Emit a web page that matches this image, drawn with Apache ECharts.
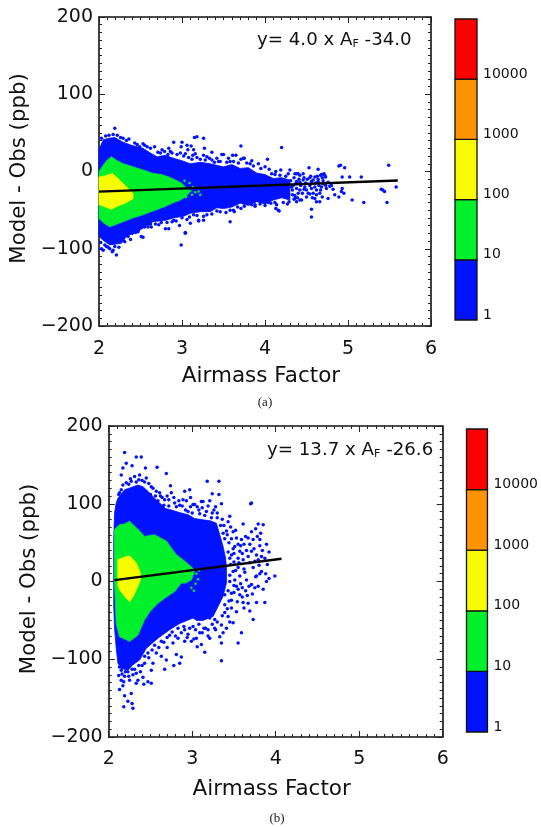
<!DOCTYPE html>
<html><head><meta charset="utf-8">
<style>html,body{margin:0;padding:0;background:#fff}#c{width:541px;height:827px}</style>
<script src="https://cdn.jsdelivr.net/npm/echarts@6/dist/echarts.min.js"></script>
</head><body><div id="c"></div>
<script>
var binEdges=[1,10,100,1000,10000,100000];
var binColors=['#0012ff','#00f02c','#f8fc00','#ff9400','#ff0000'];
var binLabels=['1','10','100','1000','10000'];
var xTicks=[2,3,4,5,6];
var yTicks=[-200,-100,0,100,200];

// Panel (a)
var aLine=[[2,-26],[5.6,-11.6]];
var aBlue=[[2.00,10],[2.00,28],[2.05,41],[2.12,43],[2.19,44],[2.29,38],[2.39,34],[2.53,30],[2.62,24],[2.70,19],[2.80,21],[2.90,17],[3.00,14],[3.10,10],[3.22,12],[3.34,10],[3.42,8],[3.50,6],[3.60,9],[3.70,4],[3.80,5],[3.90,-2],[4.00,-4],[4.10,-9],[4.20,-8],[4.30,-11],[4.30,-37],[4.20,-34],[4.10,-37],[4.00,-42],[3.90,-39],[3.80,-44],[3.70,-41],[3.60,-46],[3.50,-48],[3.42,-47],[3.34,-52],[3.22,-52],[3.10,-54],[3.02,-58],[2.90,-60],[2.81,-63],[2.65,-65],[2.49,-76],[2.33,-84],[2.27,-93],[2.13,-95],[2.05,-89],[2.00,-84]];
var aGreen=[[2.0,0],[2.05,8],[2.10,15],[2.15,19],[2.22,14],[2.29,10],[2.38,7],[2.47,4],[2.56,1],[2.65,-2.5],[2.75,-4],[2.84,-7],[2.92,-11],[3.0,-15.5],[3.05,-21],[3.1,-26],[3.04,-33],[2.98,-37],[2.88,-41],[2.78,-46],[2.65,-51],[2.53,-56],[2.41,-60],[2.29,-65],[2.13,-71.5],[2.06,-67],[2.0,-61]];
var aYellow=[[2.0,-7],[2.06,-6],[2.12,-4],[2.16,-2.5],[2.22,-8],[2.29,-15.5],[2.35,-22],[2.41,-28.5],[2.41,-35],[2.35,-39],[2.29,-42],[2.22,-45],[2.15,-49],[2.08,-46],[2.0,-43]];
var aGreenSpecks=[[3.03,-12],[3.07,-22],[3.10,-25],[3.12,-30],[3.16,-27],[3.20,-26],[3.22,-30],[3.13,-20],[3.09,-15],[3.05,-33]];
var aSpecks=[[2.19,56],[3.15,44],[3.26,43],[2.99,32],[3.11,33],[3.71,33],[4.20,31],[4.89,7],[4.96,5],[5.49,8],[5.16,-7],[5.02,-7],[5.40,-23],[5.58,-20],[5.44,-26],[5.42,-24],[5.47,-40],[5.19,-40],[5.05,-37],[4.93,-22],[4.92,-26],[4.89,-33],[4.95,-28],[4.82,-23],[4.76,-35],[4.78,-19],[4.93,-7],[4.91,8],[2.99,-95],[3.04,-79],[3.26,-63],[3.58,-65],[2.53,-85],[2.21,-108],[2.05,-102],[2.16,-104],[2.80,-74],[2.63,-72],[2.47,-78],[2.88,-65],[3.09,-59],[3.21,-50],[3.42,-51],[3.63,-52],[3.71,-48],[3.88,-45],[4.00,-44],[4.13,-48],[4.17,-51],[4.29,-39],[4.42,-37],[4.62,-39],[4.69,-33],[4.73,-7],[4.71,-3],[4.67,-5],[4.60,-7],[4.54,-8],[4.46,-3],[4.38,-3],[4.36,-3],[4.42,-5],[4.64,-10],[4.68,-4],[4.34,-18],[4.42,-24],[4.36,-31],[4.44,-37],[4.50,-24],[4.60,-35],[4.66,-39],[4.62,-24],[4.68,-20],[4.54,-18],[4.53,5],[4.64,3],[4.56,-49],[4.56,-59],[4.33,-24],[4.42,-14],[4.48,-20],[4.54,-29],[4.60,-20],[4.67,-24],[4.73,-18],[4.64,-13],[4.56,-13],[4.46,-11],[4.38,-13],[4.50,-33],[4.35,-8],[4.58,-28],[4.40,-28],[4.70,-12],[2.55,34],[2.49,32],[2.76,28],[2.84,30],[3.07,28],[3.13,21],[3.30,19],[3.36,15],[3.48,22],[3.61,21],[3.75,17],[3.82,10],[4.00,6],[4.13,0],[3.27,30],[3.16,23],[3.26,21],[3.36,25],[3.50,22],[3.65,21],[3.84,14],[3.92,10],[4.03,16],[4.19,2],[4.30,2],[4.40,-3],[3.74,17],[3.58,13],[3.44,13],[2.17,48],[2.29,43],[2.67,32],[2.53,36],[2.90,38],[3.00,38],[3.06,34],[3.14,28],[3.18,45],[2.86,26],[3.04,23],[2.09,-97],[2.13,-100],[2.17,-102],[2.03,-100],[2.31,-91],[2.51,-84],[2.47,-76],[2.59,-72],[2.84,-74],[2.90,-63],[3.04,-80],[3.10,-67],[3.20,-64],[3.20,-63],[3.26,-58],[3.62,-50],[3.88,-43],[4.16,-50],[4.38,-39],[4.14,-43],[4.04,-40],[4.36,-35],[2.42,-75],[2.38,-88],[2.62,-68],[2.72,-69],[2.97,-70],
[2.03,43],[2.08,46],[2.12,47],[2.22,47],[2.26,44],[2.33,40],[2.36,42],[2.43,37],[2.46,35],[2.58,32],[2.62,30],[2.71,25],[2.74,24],[2.79,26],[2.83,22],[2.88,24],[2.94,22],[2.98,24],[3.02,20],[3.08,18],[3.12,16],[3.18,18],[3.22,16],[3.28,15],[3.33,17],[3.39,12],[3.42,17],[3.46,13],[3.54,12],[3.56,17],[3.62,13],[3.68,11],[3.71,16],[3.78,11],[3.86,7],[3.95,4],[4.05,3],[4.08,-3],[4.12,-4],[4.18,-5],[4.25,-6],[4.28,-3],
[2.02,-92],[2.07,-95],[2.11,-98],[2.19,-97],[2.24,-98],[2.29,-89],[2.35,-84],[2.40,-80],[2.44,-79],[2.55,-72],[2.60,-68],[2.68,-68],[2.75,-66],[2.82,-66],[2.93,-64],[3.00,-60],[3.06,-62],[3.14,-56],[3.18,-57],[3.30,-56],[3.36,-55],[3.46,-52],[3.53,-53],[3.58,-50],[3.67,-46],[3.75,-45],[3.84,-43],[3.94,-42],[4.07,-41],[4.12,-40],[4.22,-40],[4.27,-42],
[4.31,-12],[4.32,-20],[4.33,-30],[4.35,-36],[4.37,-16],[4.38,-22],[4.39,-34],[4.41,-10],[4.43,-18],[4.45,-28],[4.47,-8],[4.47,-23],[4.49,-15],[4.51,-10],[4.52,-28],[4.55,-6],[4.56,-22],[4.57,-34],[4.58,-11],[4.61,-15],[4.62,-30],[4.63,-6],[4.65,-18],[4.66,-28],[4.69,-8],[4.70,-16],[4.72,-5],[4.74,-22],[4.76,-14],[4.80,-18],[4.84,-30]];

// Panel (b)
var bLine=[[2.07,1.8],[4.07,29.2]];
var bBlue=[[2.06,0],[2.06,54],[2.07,88],[2.09,101],[2.11,107],[2.19,118],[2.27,121],[2.35,124],[2.41,122],[2.47,116],[2.54,108],[2.61,101],[2.68,94],[2.75,92],[2.87,88],[2.95,86],[3.03,81],[3.15,79],[3.22,78],[3.29,75],[3.33,60],[3.37,45],[3.40,30],[3.41,19],[3.41,-2],[3.37,-19],[3.31,-32],[3.25,-45],[3.13,-50],[3.05,-50],[3.01,-47],[2.85,-54],[2.73,-62],[2.59,-73],[2.45,-86],[2.37,-101],[2.29,-107],[2.23,-114],[2.15,-112],[2.11,-105],[2.09,-86],[2.07,-60],[2.06,-30]];
var bGreen=[[2.07,41],[2.07,67],[2.13,73],[2.19,74],[2.25,77.5],[2.31,71],[2.37,65],[2.43,58],[2.55,60],[2.62,56],[2.69,52],[2.75,43],[2.81,34.5],[2.90,27],[2.99,19],[3.03,14],[2.99,2],[2.92,-2],[2.87,-2],[2.79,-13],[2.69,-20],[2.59,-28],[2.50,-38],[2.43,-49],[2.39,-59],[2.35,-69],[2.25,-77],[2.13,-71],[2.09,-54],[2.07,-2]];
var bYellow=[[2.11,28],[2.18,31],[2.25,33],[2.33,24],[2.38,11],[2.38,2],[2.33,-11],[2.29,-20],[2.25,-26],[2.19,-19],[2.13,-11],[2.11,-5]];
var bGreenSpecks=[[3.05,10],[3.07,3],[3.04,-3],[2.99,-8],[3.02,-12],[3.08,14]];
var bSpecks=[[2.19,166],[2.33,160],[2.39,160],[2.21,152],[2.28,149],[2.17,146],[2.15,137],[2.58,147],[2.37,137],[2.69,139],[2.44,146],[2.45,133],[2.27,129],[2.13,114],[2.74,123],[2.91,116],[2.97,118],[2.75,114],[2.53,120],[2.61,114],[3.11,103],[2.89,105],[3.03,99],[2.67,105],[2.55,97],[2.79,101],[2.95,90],[3.18,129],[3.32,129],[3.70,100],[3.24,113],[3.32,112],[3.71,101],[3.35,100],[3.01,99],[3.13,103],[3.21,104],[3.61,74],[3.79,74],[3.85,73],[3.76,68],[3.71,64],[3.67,56],[3.81,54],[3.89,48],[3.49,64],[3.45,84],[3.43,77],[3.37,62],[3.53,56],[3.59,54],[3.81,46],[3.65,40],[3.71,39],[3.77,34],[3.83,32],[3.51,45],[3.57,39],[3.47,34],[3.61,28],[3.69,24],[3.75,26],[3.83,13],[3.99,7],[3.77,7],[3.89,0],[3.79,-6],[3.57,7],[3.65,2],[3.49,13],[3.53,-6],[3.71,-4],[3.45,0],[3.39,-17],[3.47,-15],[3.57,-17],[3.87,-27],[3.77,-27],[3.67,-28],[3.61,-27],[3.53,-39],[3.47,-34],[3.39,-30],[3.73,-49],[3.43,-45],[3.49,-53],[3.35,-56],[3.27,-49],[3.21,-47],[3.59,-66],[3.55,-79],[3.35,-79],[3.33,-71],[3.21,-73],[3.11,-81],[3.06,-84],[2.99,-77],[3.15,-91],[3.35,-102],[2.13,-139],[2.17,-134],[2.15,-127],[2.27,-144],[2.19,-147],[2.23,-154],[2.28,-157],[2.18,-161],[2.29,-163],[2.33,-131],[2.42,-132],[2.47,-129],[2.51,-131],[2.41,-123],[2.35,-127],[2.51,-114],[2.53,-105],[2.43,-105],[2.69,-101],[2.63,-96],[2.81,-94],[2.87,-97],[2.67,-113],[2.78,-108],[2.85,-105],[2.19,-122],[2.25,-127],[2.29,-120],[2.15,-114],[2.23,-116],[2.63,-77],[2.77,-79],[2.91,-77],[3.05,-73],[3.14,-60],[2.83,-73],[2.73,-69],[2.91,-62],[3.01,-58],[3.09,-66],[2.47,-92],[2.18,-129],[2.12,-121],[2.31,-113],[2.38,-116],[2.55,-82],[2.70,-85],[2.95,-68],[3.19,-62],[3.27,-60],[3.39,-40],[3.44,-25],[3.50,-5],[3.55,18],[3.62,16],[3.60,-8],[3.66,-18],[3.73,18],[3.80,21],[3.45,30],[3.50,25],[3.55,30],[3.62,48],[3.47,55],[3.42,60],[3.38,72],[3.30,82],[3.24,88],[3.28,96],[3.17,90],[3.08,92],[2.98,96],[2.85,98],[2.72,105],[2.62,110],[2.56,110],[2.48,126],[2.40,130],[2.33,128],[2.24,125],[2.17,124],
[2.12,112],[2.15,118],[2.21,127],[2.26,132],[2.31,135],[2.36,131],[2.43,128],[2.51,122],[2.50,112],[2.57,116],[2.59,104],[2.64,108],[2.66,98],[2.70,110],[2.72,97],[2.78,108],[2.81,96],[2.84,104],[2.88,97],[2.93,104],[2.92,92],[2.98,108],[3.00,88],[3.06,96],[3.09,87],[3.12,95],[3.15,85],[3.19,97],[3.23,82],[3.26,92],[3.30,88],[3.34,72],[3.36,80],[3.39,55],[3.41,65],[3.44,50],[3.46,70],[3.49,42],[3.52,66],[3.55,48],[3.43,38],[3.46,22],[3.50,36],[3.52,14],[3.56,24],[3.58,46],[3.60,36],[3.63,12],[3.64,58],[3.67,32],[3.69,48],[3.73,54],[3.74,42],[3.78,58],[3.79,28],[3.82,62],[3.84,40],[3.87,30],[3.90,22],[3.92,38],
[3.43,-12],[3.45,8],[3.47,-24],[3.50,-14],[3.51,2],[3.54,-26],[3.55,-10],[3.58,-3],[3.60,-20],[3.62,-34],[3.64,-12],[3.68,-6],[3.69,-38],[3.72,-16],[3.75,-8],[3.76,6],[3.81,10],[3.85,-10],[3.88,10],[3.92,4],[3.42,-35],[3.45,-52],[3.41,-60],[3.36,-44],[3.37,-66],[3.30,-52],[3.28,-62],[3.24,-55],[3.19,-70],[3.16,-60],[3.12,-66],[3.08,-55],[3.04,-62],[3.02,-74],[2.97,-60],[2.94,-72],[2.90,-58],[2.87,-66],[2.83,-60],[2.80,-70],[2.76,-65],[2.70,-72],[2.66,-78],[2.60,-85],[2.57,-92],[2.52,-88],[2.48,-98],[2.43,-96],[2.40,-108],[2.36,-108],[2.33,-118],[2.28,-113],[2.24,-122],[2.20,-116],[2.16,-119],[2.13,-110]];

function poly(arr,color,xi,yi,z){return {type:'custom',xAxisIndex:xi,yAxisIndex:yi,z:z,silent:true,animation:false,
  encode:{x:0,y:1},data:arr,renderItem:function(p,api){
    if(p.dataIndex!==0)return null;
    return {type:'polygon',shape:{points:arr.map(function(d){return api.coord(d);})},style:{fill:color,stroke:color,lineWidth:0.8}};
  }};}
function dots(arr,color,size,xi,yi,z){return {type:'scatter',xAxisIndex:xi,yAxisIndex:yi,z:z,silent:true,animation:false,
  symbol:'circle',symbolSize:size,data:arr,itemStyle:{color:color,opacity:1}};}
function line(arr,xi,yi){return {type:'line',xAxisIndex:xi,yAxisIndex:yi,z:9,silent:true,animation:false,symbol:'none',data:arr,
  lineStyle:{color:'#000',width:2.4}};}
function colorbar(xi,yi){
  var cells=binColors.map(function(c,i){return [0,binEdges[i],binEdges[i+1],i];});
  return {type:'custom',xAxisIndex:xi,yAxisIndex:yi,z:2,silent:true,animation:false,encode:{x:0,y:[1,2]},data:cells,
    renderItem:function(p,api){
      var a=api.coord([0,api.value(1)]),b=api.coord([1,api.value(2)]);
      return {type:'rect',shape:{x:a[0],y:b[1],width:b[0]-a[0],height:a[1]-b[1]},
        style:{fill:binColors[api.value(3)],stroke:'#111',lineWidth:1.3}};
    }};
}
var tickFont='DejaVu Sans';
var lineStyle={color:'#111',width:1.6};
var tickStyle={color:'#222',width:1};
function mainX(g,gap,margin){return [
  {gridIndex:g,type:'value',min:2,max:6,interval:1,position:'bottom',name:'Airmass Factor',nameLocation:'middle',nameGap:gap,
   nameTextStyle:{fontFamily:tickFont,fontSize:21.5,color:'#111',padding:[0,8,0,0]},
   axisLine:{show:true,onZero:false,lineStyle:lineStyle},axisTick:{show:true,inside:true,length:6,lineStyle:tickStyle},
   minorTick:{show:true,splitNumber:10,length:3,lineStyle:tickStyle},splitLine:{show:false},
   axisLabel:{fontFamily:tickFont,fontSize:19,color:'#111',margin:margin,showMinLabel:true,showMaxLabel:true}},
  {gridIndex:g,type:'value',min:2,max:6,interval:1,position:'top',
   axisLine:{show:true,onZero:false,lineStyle:lineStyle},axisTick:{show:true,inside:true,length:6,lineStyle:tickStyle},
   minorTick:{show:true,splitNumber:10,length:3,lineStyle:tickStyle},splitLine:{show:false},axisLabel:{show:false}}
];}
function mainY(g,gap,shift){return [
  {gridIndex:g,type:'value',min:-200,max:200,interval:100,position:'left',name:'Model - Obs (ppb)',nameLocation:'middle',nameGap:gap,
   nameTextStyle:{fontFamily:tickFont,fontSize:21.3,color:'#111',padding:[0,0,0,shift]},
   axisLine:{show:true,onZero:false,lineStyle:lineStyle},axisTick:{show:true,inside:true,length:6,lineStyle:tickStyle},
   minorTick:{show:true,splitNumber:10,length:3,lineStyle:tickStyle},splitLine:{show:false},
   axisLabel:{fontFamily:tickFont,fontSize:19,color:'#111',margin:6,showMinLabel:true,showMaxLabel:true,
     formatter:function(v){return v<0?'\u2212'+Math.abs(v):String(v);}}},
  {gridIndex:g,type:'value',min:-200,max:200,interval:100,position:'right',
   axisLine:{show:true,onZero:false,lineStyle:lineStyle},axisTick:{show:true,inside:true,length:6,lineStyle:tickStyle},
   minorTick:{show:true,splitNumber:10,length:3,lineStyle:tickStyle},splitLine:{show:false},axisLabel:{show:false}}
];}
function barX(g){return {gridIndex:g,type:'value',min:0,max:1,show:false};}
function barY(g){return {gridIndex:g,type:'log',logBase:10,min:1,max:100000,position:'right',
  axisLine:{show:false},axisTick:{show:false},minorTick:{show:false},splitLine:{show:false},
  axisLabel:{fontFamily:tickFont,fontSize:14,color:'#111',margin:6,showMinLabel:true,showMaxLabel:true,verticalAlign:'bottom',lineHeight:10,
    formatter:function(v){var i=binEdges.indexOf(Math.round(v));return i>=0&&i<binLabels.length?binLabels[i]:'';}}};}
function annot(left,top,a,b){return {type:'text',left:left,top:top,z:20,style:{
  text:'{n|'+a+'}{s|F}{n|'+b+'}',rich:{n:{fontFamily:tickFont,fontSize:18.2,fill:'#111',color:'#111'},
  s:{fontFamily:tickFont,fontSize:11,fill:'#111',color:'#111',padding:[8,0,0,0]}}}};}
function caption(x,y,t){return {type:'text',x:x,y:y,z:20,style:{text:t,fontFamily:'Liberation Serif',fontSize:13,fill:'#222',align:'center',verticalAlign:'middle'}};}

var chart=echarts.init(document.getElementById('c'),null,{renderer:'canvas'});
chart.setOption({
  animation:false,backgroundColor:'#fff',
  grid:[
    {left:99,top:17,width:332,height:309},
    {left:455,top:19,width:22,height:301},
    {left:108.7,top:426,width:334,height:311},
    {left:466.5,top:429,width:22,height:303}
  ],
  xAxis:mainX(0,39,14).concat([barX(1)]).concat(mainX(2,41,13)).concat([barX(3)]),
  yAxis:mainY(0,61,6).concat([barY(1)]).concat(mainY(2,61,5)).concat([barY(3)]),
  series:[
    poly(aBlue,binColors[0],0,0,3),dots(aSpecks,binColors[0],3.5,0,0,4),
    poly(aGreen,binColors[1],0,0,5),dots(aGreenSpecks,binColors[1],2.5,0,0,5),poly(aYellow,binColors[2],0,0,6),
    line(aLine,0,0),colorbar(2,2),
    poly(bBlue,binColors[0],3,3,3),dots(bSpecks,binColors[0],3.5,3,3,4),
    poly(bGreen,binColors[1],3,3,5),dots(bGreenSpecks,binColors[1],2.5,3,3,5),poly(bYellow,binColors[2],3,3,6),
    line(bLine,3,3),colorbar(5,5)
  ],
  graphic:[
    annot(257,31,'y= 4.0 x A',' -34.0'),
    annot(267,441,'y= 13.7 x A',' -26.6'),
    caption(265,403,'(a)'),
    caption(277,819,'(b)')
  ]
});
</script></body></html>
